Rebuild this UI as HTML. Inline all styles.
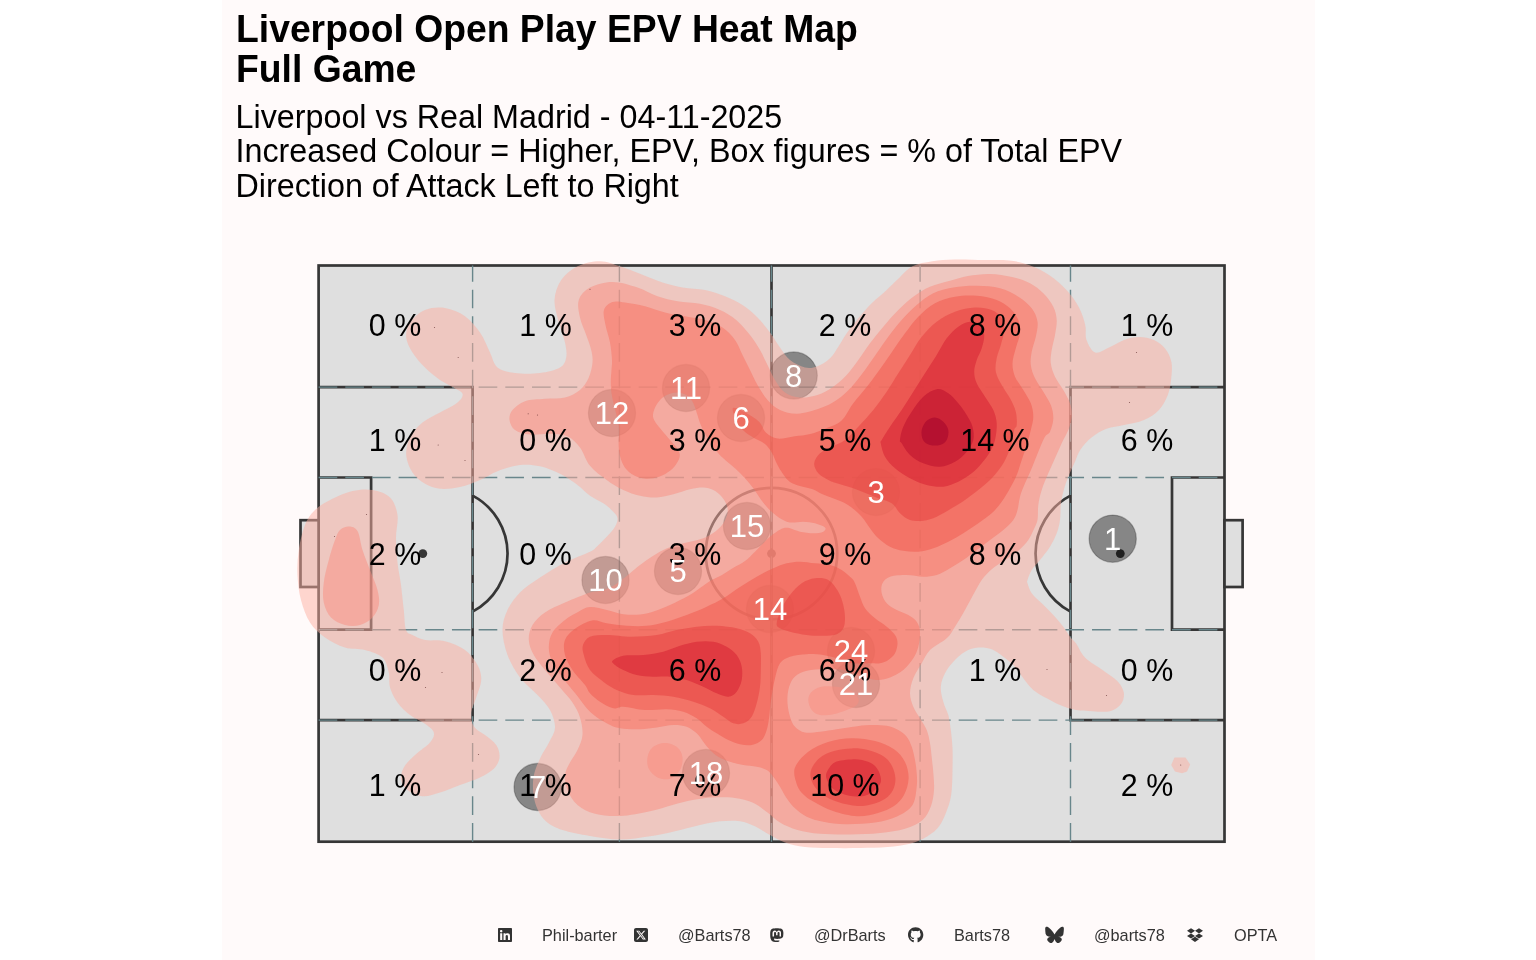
<!DOCTYPE html>
<html lang="en"><head><meta charset="utf-8"><title>Liverpool Open Play EPV Heat Map</title>
<style>
html,body{margin:0;padding:0;background:#fff}
body{width:1536px;height:960px;overflow:hidden;position:relative;font-family:"Liberation Sans",sans-serif}
#panel{position:absolute;left:221.5px;top:0;width:1093px;height:960px;background:#fffafa}
svg{position:absolute;left:0;top:0}
</style></head><body>
<div id="panel"></div>
<svg width="1536" height="960" viewBox="0 0 1536 960">
<g fill="#dfdfdf" stroke="#363636" stroke-width="2.7" stroke-linejoin="miter">
<rect x="318.6" y="265.5" width="905.9" height="576.2"/>
<rect x="300.5" y="520.2" width="18.1" height="66.8"/>
<rect x="1224.5" y="520.2" width="18.1" height="66.8"/>
</g>
<g fill="none" stroke="#363636" stroke-width="2.7">
<path d="M771.5 265.5V841.7"/>
<circle cx="771.5" cy="553.6" r="65.7"/>
<path d="M472.6 495.6A65.6 65.6 0 0 1 472.6 611.6"/>
<path d="M1070.5 495.6A65.6 65.6 0 0 0 1070.5 611.6"/>
<path d="M318.6 387.1H472.6V720.1H318.6"/>
<path d="M1224.5 387.1H1070.5V720.1H1224.5"/>
<path d="M318.6 477.5H371.1V629.7H318.6"/>
<path d="M1224.5 477.5H1172V629.7H1224.5"/>
</g>
<g fill="#363636">
<circle cx="422.8" cy="553.6" r="4.4"/>
<circle cx="771.5" cy="553.6" r="4.4"/>
<circle cx="1120.3" cy="553.6" r="4.4"/>
</g>
<g fill="none" stroke="#68868b" stroke-width="1.4" stroke-dasharray="18.67 8">
<path d="M472.6 841.7V265.5"/>
<path d="M619.4 841.7V265.5"/>
<path d="M771.5 841.7V265.5"/>
<path d="M920.1 841.7V265.5"/>
<path d="M1070.5 841.7V265.5"/>
<path d="M318.6 387.1H1224.5"/>
<path d="M318.6 477.5H1224.5"/>
<path d="M318.6 629.7H1224.5"/>
<path d="M318.6 720.1H1224.5"/>
</g>
<g fill="#000" fill-opacity="0.4" stroke="#000" stroke-opacity="0.25" stroke-width="1.2">
<circle cx="793.7" cy="375.5" r="23.6"/>
<circle cx="686" cy="388" r="23.6"/>
<circle cx="612" cy="413" r="23.6"/>
<circle cx="741" cy="418" r="23.6"/>
<circle cx="876" cy="492" r="23.6"/>
<circle cx="747" cy="526" r="23.6"/>
<circle cx="1112.7" cy="538.7" r="23.6"/>
<circle cx="678" cy="571" r="23.6"/>
<circle cx="605.5" cy="580" r="23.6"/>
<circle cx="770" cy="609" r="23.6"/>
<circle cx="851" cy="651" r="23.6"/>
<circle cx="856" cy="684" r="23.6"/>
<circle cx="706" cy="773" r="23.6"/>
<circle cx="537.6" cy="787" r="23.6"/>
</g>
<g stroke="none">
<path fill="rgb(253,175,161)" fill-opacity="0.500" d="M600 261.2C592.9 261.2 584 263.1 577.5 266.2C571 269.4 565.1 274.4 561.2 280C557.4 285.6 554.9 292.9 554.5 300C554.1 307.1 557 315.4 558.8 322.5C560.5 329.6 563.8 336.7 565 342.5C566.2 348.3 567.1 353.3 566.2 357.5C565.4 361.7 564.4 364.9 560 367.5C555.6 370.1 547.5 372.1 540 373C532.5 373.9 522.1 373.9 515 373C507.9 372.1 501.7 370.9 497.5 367.5C493.3 364.1 492.9 358.3 490 352.5C487.1 346.7 484.2 338.5 480 332.5C475.8 326.5 470.8 320.3 465 316.2C459.2 312.2 451.7 309 445 308C438.3 307 430.8 307.6 425 310C419.2 312.4 413.1 317.9 410 322.5C406.9 327.1 405.8 332.5 406.2 337.5C406.7 342.5 409.4 347.5 412.5 352.5C415.6 357.5 420.4 362.9 425 367.5C429.6 372.1 435.4 376.8 440 380C444.6 383.2 448.8 384.7 452.5 387C456.2 389.3 461.7 391.2 462.5 393.8C463.3 396.3 461.2 399.4 457.5 402.5C453.8 405.6 445.8 409.2 440 412.5C434.2 415.8 427.5 418.3 422.5 422.5C417.5 426.7 412.7 432.1 410 437.5C407.3 442.9 405.8 449.2 406.2 455C406.7 460.8 409.4 467.7 412.5 472.5C415.6 477.3 420.4 481 425 483.8C429.6 486.5 434.2 488.2 440 488.8C445.8 489.3 453.3 488.5 460 487C466.7 485.5 473.8 482.6 480 480C486.2 477.4 490.8 473.8 497.5 471.2C504.2 468.8 512.9 465.8 520 465C527.1 464.2 533.3 464.8 540 466.2C546.7 467.7 553.8 470.6 560 473.8C566.2 476.9 572.5 481.3 577.5 485C582.5 488.7 585.7 492.8 590 495.8C594.3 498.9 599.4 500.7 603.3 503.3C607.2 505.9 610.9 509.2 613.3 511.7C615.7 514.2 617.2 515.8 617.5 518.3C617.8 520.8 616.8 523.6 615 526.7C613.2 529.8 609.8 533.4 606.7 536.7C603.7 540 599.5 544.2 596.7 546.7C593.9 549.2 595.3 549.1 590 551.7C584.7 554.3 573.3 558.2 565 562.5C556.7 566.8 547.5 572.5 540 577.5C532.5 582.5 525.4 587.1 520 592.5C514.6 597.9 510.4 603.8 507.5 610C504.6 616.2 502.5 622.5 502.5 630C502.5 637.5 504.6 647.1 507.5 655C510.4 662.9 515 670.8 520 677.5C525 684.2 532.5 689.6 537.5 695C542.5 700.4 547.1 704.6 550 710C552.9 715.4 555.2 722.1 555 727.5C554.8 732.9 551.4 737.5 549 742.5C546.6 747.5 543.1 751.8 540.5 757.5C537.9 763.2 534.6 770.2 533.5 777C532.4 783.8 533 792 534 798C535 804 537.2 808.8 539.5 813C541.8 817.2 544.2 820.2 548 823C551.8 825.8 555.5 827.8 562.5 830C569.5 832.2 580.4 834.4 590 836C599.6 837.6 610 839.5 620 839.5C630 839.5 640.8 837.6 650 836.2C659.2 834.9 666.7 833.1 675 831.2C683.3 829.4 692.5 826.7 700 825C707.5 823.3 713.3 821.9 720 821.2C726.7 820.6 734.2 820.4 740 821.2C745.8 822.1 750 824 755 826.2C760 828.5 765 832.3 770 835C775 837.7 779.2 840.5 785 842.5C790.8 844.5 797.5 846.1 805 847C812.5 847.9 820.8 847.8 830 848C839.2 848.2 850.4 848.2 860 848C869.6 847.8 879.2 847.7 887.5 847C895.8 846.3 903.3 845.5 910 843.8C916.7 842 922.5 839.4 927.5 836.2C932.5 833.1 936.5 830.2 940 825C943.5 819.8 946.8 810.8 948.8 805C950.7 799.2 951.1 795.8 951.7 790C952.3 784.2 952.4 777 952.5 770C952.6 763 952.8 755 952.5 748.3C952.2 741.6 951.5 735.5 950.8 730C950.1 724.5 949.5 719.7 948.3 715C947 710.3 944.5 706.4 943.3 701.7C942 697 940.5 691.4 940.8 686.7C941.1 682 942.9 677.5 945 673.3C947.1 669.1 950 665.3 953.3 661.7C956.6 658.1 960.8 654.1 965 651.7C969.2 649.3 973.8 647.9 978.3 647.5C982.8 647.1 987.5 647.7 991.7 649.2C995.9 650.7 999.4 653.8 1003.3 656.7C1007.2 659.6 1011.7 663.1 1015 666.7C1018.3 670.3 1020.2 674.4 1023.3 678.3C1026.3 682.2 1029.4 686.7 1033.3 690C1037.2 693.3 1042.2 695.8 1046.7 698.3C1051.2 700.8 1055.1 703 1060 705C1064.9 707 1070.6 709 1076 710C1081.4 711 1086.8 711 1092.5 711.2C1098.2 711.5 1105.2 712.5 1110 711.2C1114.8 710 1119 706.9 1121.2 703.8C1123.5 700.6 1124.4 696.2 1123.8 692.5C1123.1 688.8 1121 685 1117.5 681.2C1114 677.5 1107.9 674 1102.5 670C1097.1 666 1089.4 662 1085 657.5C1080.6 653 1078.5 646.8 1076 643.3C1073.5 639.8 1072.1 639.5 1070 636.7C1067.9 633.9 1066.1 630.3 1063.3 626.7C1060.5 623.1 1056.9 618.9 1053.3 615C1049.7 611.1 1045.3 606.9 1041.7 603.3C1038.1 599.7 1034.1 596.6 1031.7 593.3C1029.3 590 1028.2 585.5 1027.5 583.3C1026.8 581.1 1026.8 582.2 1027.5 580C1028.2 577.8 1029.6 573.3 1031.7 570C1033.8 566.7 1037 563.9 1040 560C1043 556.1 1047.2 551.2 1050 546.7C1052.8 542.2 1055 537.8 1056.7 533.3C1058.4 528.8 1059.3 524.7 1060 520C1060.7 515.3 1060.2 509.7 1060.8 505C1061.3 500.3 1062 496.4 1063.3 491.7C1064.5 487 1066.3 481.7 1068.3 476.7C1070.2 471.7 1073 466.1 1075 461.7C1077 457.2 1077.5 454 1080.2 450C1083 446 1087.1 441 1091.5 437.5C1095.9 434 1101.1 430.8 1106.5 428.8C1111.9 426.7 1117.8 426.5 1124 425C1130.2 423.5 1138.2 422.5 1144 420C1149.8 417.5 1155 414.2 1159 410C1163 405.8 1165.8 400 1167.8 395C1169.8 390 1170.4 385.4 1171 380C1171.6 374.6 1172.5 367.7 1171.5 362.5C1170.5 357.3 1168.2 352.5 1165.2 348.8C1162.3 345 1158.4 342 1154 340C1149.6 338 1144 337 1139 337C1134 337 1129 338.2 1124 340C1119 341.8 1113.8 345.4 1109 347.5C1104.2 349.6 1099 353.8 1095.2 352.5C1091.5 351.2 1088.2 344.6 1086.5 340C1084.8 335.4 1086.5 330.4 1085.2 325C1084 319.6 1082.1 313.3 1079 307.5C1075.9 301.7 1071.5 295.4 1066.5 290C1061.5 284.6 1055.2 279.2 1049 275C1042.8 270.8 1035.7 267.4 1029 265C1022.3 262.6 1016.5 261.3 1009 260.5C1001.5 259.7 993 260.2 984 260C975 259.8 963.6 259.3 955 259.5C946.4 259.7 939.6 260.1 932.5 261.2C925.4 262.4 918.2 263.3 912.5 266.2C906.8 269.2 902.3 275 898 279C893.7 283 891.1 285.9 886.7 290C882.3 294.1 876.4 298.6 871.7 303.3C867 308 862.5 313.3 858.3 318.3C854.1 323.3 850 328.6 846.7 333.3C843.4 338 841.1 342.5 838.3 346.7C835.5 350.9 833.5 355 830 358.3C826.5 361.6 821.7 364.7 817.5 366.2C813.3 367.8 809.6 368.5 805 367.5C800.4 366.5 794.2 363.3 790 360C785.8 356.7 783.3 352.1 780 347.5C776.7 342.9 773.8 337.5 770 332.5C766.2 327.5 762.1 322.1 757.5 317.5C752.9 312.9 747.9 308.5 742.5 305C737.1 301.5 731.2 298.8 725 296.2C718.8 293.8 712.1 291.5 705 290C697.9 288.5 689.6 288.8 682.5 287.5C675.4 286.2 669.6 284.8 662.5 282.5C655.4 280.2 647.1 276.5 640 273.8C632.9 271 626.7 268.3 620 266.2C613.3 264.2 607.1 261.2 600 261.2Z"/>
<path fill="rgb(253,175,161)" fill-opacity="0.500" d="M372.5 490C378.8 491.1 385.8 493.3 390 497.5C394.2 501.7 396.5 508.3 397.5 515C398.5 521.7 396 529.6 396 537.5C396 545.4 396.7 554.6 397.5 562.5C398.3 570.4 400 577.1 401 585C402 592.9 402.9 602.5 403.8 610C404.6 617.5 404.5 625.8 406 630C407.5 634.2 409.3 633.3 412.5 635C415.7 636.7 419.6 639 425 640C430.4 641 438.3 639.6 445 641.2C451.7 642.9 459.6 646 465 650C470.4 654 474.8 660 477.5 665C480.2 670 481.5 674.6 481.2 680C481 685.4 477.9 692.1 476.2 697.5C474.6 702.9 471.7 707.7 471.2 712.5C470.8 717.3 471.5 722.5 473.8 726.2C476 730 481.2 731.9 485 735C488.8 738.1 493.8 741.2 496.2 745C498.7 748.8 499.9 753.5 499.5 757.5C499.1 761.5 497 765.4 493.8 768.8C490.5 772.1 485.6 774.8 480 777.5C474.4 780.2 466.7 782.5 460 785C453.3 787.5 446.2 790.6 440 792.5C433.8 794.4 427.9 796.7 422.5 796.2C417.1 795.8 411 792.7 407.5 790C404 787.3 401.9 783.8 401.2 780C400.6 776.2 401.5 771.7 403.8 767.5C406 763.3 410.6 759.2 415 755C419.4 750.8 426.9 746.2 430 742.5C433.1 738.8 434.6 735.6 433.8 732.5C432.9 729.4 429 726.7 425 723.8C421 720.8 414.6 718.5 410 715C405.4 711.5 400.8 707.1 397.5 702.5C394.2 697.9 391.5 692.5 390 687.5C388.5 682.5 390 677.5 388.8 672.5C387.5 667.5 386.5 661.2 382.5 657.5C378.5 653.8 371.2 651.7 365 650C358.8 648.3 351.7 649.6 345 647.5C338.3 645.4 330.8 641.7 325 637.5C319.2 633.3 314 628.8 310 622.5C306 616.2 303.1 607.9 301 600C298.9 592.1 297.9 583.3 297.5 575C297.1 566.7 297.5 558.3 298.8 550C300 541.7 302.3 531.7 305 525C307.7 518.3 310.4 514.4 315 510C319.6 505.6 326.2 501.9 332.5 498.8C338.8 495.6 345.8 492.5 352.5 491C359.2 489.5 366.2 488.9 372.5 490Z"/>
<path fill="rgb(253,175,161)" fill-opacity="0.500" d="M1171.2 765L1174.5 757.5L1185.5 757.5L1190.2 764.5L1187 771.5L1182 773.3L1175 771.5Z"/>
<path fill="rgb(250,141,128)" fill-opacity="0.500" d="M612.5 282C604.6 282 595.6 284.5 590 287.5C584.4 290.5 580.4 295 578.8 300C577.1 305 578.8 311.7 580 317.5C581.2 323.3 584.4 329.6 586.2 335C588.1 340.4 590.2 345.4 591.2 350C592.3 354.6 592.9 357.9 592.5 362.5C592.1 367.1 590.8 372.9 588.8 377.5C586.7 382.1 584 386.7 580 390C576 393.3 570.8 396 565 397.5C559.2 399 551.7 398.1 545 398.8C538.3 399.4 530.4 399.4 525 401.2C519.6 403.1 515.1 406.9 512.5 410C509.9 413.1 509.1 416.7 509.5 420C509.9 423.3 511.6 427.6 515 430C518.4 432.4 524.2 433.9 530 434.5C535.8 435.1 543.8 433.5 550 433.8C556.2 434 562.5 434 567.5 436.2C572.5 438.5 576.2 442.6 580 447.5C583.8 452.4 585.5 460.4 590 465.8C594.5 471.2 601.2 476 606.7 480C612.2 484 617.8 487.4 623.3 490C628.8 492.6 634.4 494.6 640 495.8C645.6 497.1 651.2 497.8 656.7 497.5C662.2 497.2 667.8 495.6 673.3 494.2C678.8 492.8 685 490.3 690 489.2C695 488.1 699.4 487.4 703.3 487.5C707.2 487.6 710.2 488.5 713.3 490C716.4 491.5 719.5 494.2 721.7 496.7C723.9 499.2 725.7 502.2 726.7 505C727.7 507.8 728.1 510.2 727.5 513.3C726.9 516.3 725.4 520.2 723.3 523.3C721.2 526.4 718.3 529.2 715 531.7C711.7 534.2 707.5 536.6 703.3 538.3C699.1 540 694.4 540.6 690 541.7C685.6 542.8 681.2 543.6 676.7 545C672.2 546.4 667.5 548 663.3 550C659.1 552 655.6 554.2 651.7 556.7C647.8 559.2 643.6 562.2 640 565C636.4 567.8 633 570.8 630 573.3C627 575.8 624.8 577.8 621.7 580C618.7 582.2 615.3 584.9 611.7 586.7C608.1 588.5 603.6 590 600 591C596.4 592 595.8 590.6 590 592.5C584.2 594.4 572.5 599.2 565 602.5C557.5 605.8 550.4 608.8 545 612.5C539.6 616.2 535.2 620.4 532.5 625C529.8 629.6 528.5 635 528.8 640C529 645 531 650 533.8 655C536.5 660 540.6 664.6 545 670C549.4 675.4 555.4 682.1 560 687.5C564.6 692.9 569.2 697.5 572.5 702.5C575.8 707.5 578.3 712.1 580 717.5C581.7 722.9 582.9 729.6 582.5 735C582.1 740.4 579.6 745.4 577.5 750C575.4 754.6 572.1 758.3 570 762.5C567.9 766.7 565.4 770.4 565 775C564.6 779.6 565.4 785 567.5 790C569.6 795 572.9 801 577.5 805C582.1 809 587.9 811.9 595 813.8C602.1 815.6 610.8 816.4 620 816C629.2 815.6 641.2 813.1 650 811.2C658.8 809.4 665.4 806.9 672.5 805C679.6 803.1 685.8 801.2 692.5 800C699.2 798.8 705.4 797.8 712.5 797.5C719.6 797.2 728.3 797.2 735 798C741.7 798.8 747.1 800.1 752.5 802.5C757.9 804.9 762.9 809.2 767.5 812.5C772.1 815.8 775 819.6 780 822.5C785 825.4 790.8 828.1 797.5 830C804.2 831.9 811.2 833 820 833.8C828.8 834.5 840 834.6 850 834.5C860 834.4 870.8 834 880 833C889.2 832 897.9 830.9 905 828.8C912.1 826.6 918.2 823.8 922.5 820C926.8 816.2 929.1 811 931 806C932.9 801 933.6 795.2 934 790C934.4 784.8 933.8 780 933.5 775C933.2 770 932.6 765.3 932 760C931.4 754.7 930.9 748.3 930 743.3C929.1 738.3 928.4 734.2 926.7 730C925 725.8 922.2 722.2 920 718.3C917.8 714.4 915 710.9 913.3 706.7C911.6 702.5 910 698 910 693.3C910 688.6 911.3 683.3 913.3 678.3C915.2 673.3 918.9 668 921.7 663.3C924.5 658.6 925.8 654.2 930 650C934.2 645.8 942.5 642.2 946.7 638.3C950.9 634.4 952.6 630.2 955 626.7C957.4 623.2 959.3 619.8 961 617C962.7 614.2 963.5 612.7 965 610C966.5 607.3 968.2 604.1 970 600.8C971.8 597.5 973.8 593.5 975.8 590C977.8 586.5 979.3 583.2 981.7 580C984.1 576.8 987 573.6 990 570.8C993 568 996.7 565.6 1000 563.3C1003.3 560.9 1006.7 559.1 1010 556.7C1013.3 554.4 1017 552 1020 549.2C1023 546.4 1026 543.2 1028.3 540C1030.5 536.8 1032 533.3 1033.5 530C1035 526.7 1036.7 524.2 1037.5 520C1038.3 515.8 1037.6 510 1038.3 505C1039 500 1040 495.3 1041.7 490C1043.4 484.7 1046.1 478.6 1048.3 473.3C1050.5 468 1052.8 463.3 1055 458.3C1057.2 453.3 1059.5 448 1061.7 443.3C1063.9 438.6 1066.6 434.4 1068.3 430C1070 425.6 1071.4 421.1 1071.7 416.7C1072 412.2 1071.4 407.8 1070 403.3C1068.6 398.9 1065.8 394.4 1063.3 390C1060.8 385.6 1057.1 381.1 1055 376.7C1052.9 372.2 1051.3 367.8 1050.8 363.3C1050.2 358.9 1051 354.7 1051.7 350C1052.4 345.3 1054.2 340 1055 335C1055.8 330 1057 324.7 1056.7 320C1056.4 315.3 1055.5 311.1 1053.3 306.7C1051.1 302.2 1047.2 297.2 1043.3 293.3C1039.4 289.4 1035.2 286 1030 283.3C1024.8 280.6 1018.7 278.6 1012 277C1005.3 275.4 997.3 274.2 990 274C982.7 273.8 974.7 274.9 968 276C961.3 277.1 956.3 279 950 280.8C943.7 282.6 936.1 284.1 930 286.7C923.9 289.3 918.6 292.8 913.3 296.7C908 300.6 903.3 305 898.3 310C893.3 315 888 321.1 883.3 326.7C878.6 332.2 874.2 337.8 870 343.3C865.8 348.9 862.2 354.7 858.3 360C854.4 365.3 850.9 370.6 846.7 375C842.5 379.4 838.2 383.4 833.3 386.7C828.4 390 823 393.2 817.5 395C812 396.8 805.4 397.9 800 397.5C794.6 397.1 789.2 395.4 785 392.5C780.8 389.6 777.9 384.6 775 380C772.1 375.4 770 370 767.5 365C765 360 762.9 355 760 350C757.1 345 754 340 750 335C746 330 741.2 324.2 736.2 320C731.2 315.8 726 312.7 720 310C714 307.3 707.1 305.2 700 303.8C692.9 302.3 684.6 302.5 677.5 301.2C670.4 300 664.2 298.5 657.5 296.2C650.8 294 645 289.9 637.5 287.5C630 285.1 620.4 282 612.5 282Z"/>
<path fill="rgb(250,141,128)" fill-opacity="0.500" d="M349 526.5C351.9 526.7 355.2 527.1 357.5 531C359.8 534.9 360.4 543.5 362.5 550C364.6 556.5 367.5 563.3 370 570C372.5 576.7 376 584.2 377.5 590C379 595.8 379.6 600.4 378.8 605C377.9 609.6 375.6 614.2 372.5 617.5C369.4 620.8 364.6 623.8 360 625C355.4 626.2 349.8 626.2 345 625C340.2 623.8 334.5 621.2 331 617.5C327.5 613.8 325 608.3 323.8 602.5C322.5 596.7 322.9 589.6 323.8 582.5C324.6 575.4 326.9 567.1 328.8 560C330.6 552.9 333.1 545 335 540C336.9 535 337.7 532.2 340 530C342.3 527.8 346.1 526.3 349 526.5Z"/>
<path fill="rgb(250,141,128)" fill-opacity="0.500" d="M647.5 757.5C648.1 754 649.6 749.9 652.5 747.5C655.4 745.1 660.8 743 665 743C669.2 743 674.6 745.1 677.5 747.5C680.4 749.9 682.1 753.8 682.5 757.5C682.9 761.2 682.1 766.5 680 770C677.9 773.5 673.8 777.5 670 778.8C666.2 780 661 779.2 657.5 777.5C654 775.8 650.4 772.1 648.8 768.8C647.1 765.4 646.9 761 647.5 757.5Z"/>
<path fill="rgb(250,141,128)" fill-opacity="0.500" d="M808.3 700C808.3 697 809.5 693.9 811.7 691.7C813.9 689.5 817.5 687.5 821.7 686.7C825.9 685.9 832 686.2 836.7 686.7C841.4 687.2 846.4 688.1 850 690C853.6 691.9 857.2 695.8 858.3 698.3C859.4 700.8 858.6 703 856.7 705C854.8 707 850.6 708.5 846.7 710C842.8 711.5 837.8 713.4 833.3 714.2C828.8 715 823.6 715.7 820 715C816.4 714.3 813.7 712.5 811.7 710C809.8 707.5 808.3 703 808.3 700Z"/>
<path fill="rgb(248,116,100)" fill-opacity="0.500" d="M612.5 302C609 303.2 605.2 306.2 604 310C602.8 313.8 604.5 319.6 605.5 325C606.5 330.4 608.9 336.7 610 342.5C611.1 348.3 611.8 355.4 612 360C612.2 364.6 611.7 366.2 611.5 370C611.3 373.8 610.7 378.7 610.8 383C610.9 387.3 611.1 391 612 396C612.9 401 614.8 407.6 616 413C617.2 418.4 618.9 423.6 619.3 428.6C619.7 433.6 618.5 438.4 618.6 443C618.7 447.6 618.9 451.9 620 456C621.1 460.1 622.6 464.4 625 467.7C627.4 470.9 630.8 473.7 634.3 475.5C637.8 477.3 641.9 478.5 646 478.7C650.1 478.9 654.9 478.2 659 476.8C663.1 475.4 667.7 472.7 670.7 470.3C673.7 467.9 675.7 465 677.2 462.4C678.7 459.8 680 457.2 679.8 454.6C679.6 452 678 449.6 676 446.8C674 444 670.6 440.7 668 437.7C665.4 434.7 662.5 431.4 660.3 428.6C658 425.8 655.7 423.2 654.5 420.8C653.3 418.4 652.7 416.9 653 414.3C653.3 411.7 654.7 407.8 656.4 405C658.1 402.2 660.6 399.2 663 397.3C665.4 395.4 667.9 394.1 670.7 393.4C673.5 392.6 677.2 392.4 680 392.8C682.8 393.2 685.5 394.4 687.7 396C689.9 397.6 691.5 399.8 693 402.6C694.5 405.4 695.5 409.3 696.8 413C698.1 416.7 699 420.6 700.7 424.7C702.4 428.8 704.8 433.6 707.2 437.7C709.6 441.8 712.3 446 715 449.4C717.7 452.8 720 455.1 723.3 458.3C726.6 461.5 731.4 465 735 468.3C738.6 471.6 742 475 745 478.3C748 481.6 750.8 485 753.3 488.3C755.8 491.6 757.8 495.2 760 498.3C762.2 501.4 764.5 504.2 766.7 506.7C768.9 509.2 770.8 511.2 773.3 513.3C775.8 515.4 778.9 517.7 781.7 519.2C784.5 520.7 786.4 522.1 790 522.5C793.6 522.9 799.1 521.6 803.3 521.7C807.5 521.8 811.4 522.3 815 523.3C818.6 524.3 823.6 526.1 825 527.5C826.4 528.9 825.2 530.7 823.3 531.7C821.3 532.7 817.2 533.3 813.3 533.3C809.4 533.3 803.9 532.5 800 531.7C796.1 530.9 792.8 528.9 790 528.3C787.2 527.7 785.5 527.7 783.3 528.3C781.1 528.9 778.9 530.3 776.7 531.7C774.5 533.1 772.2 534.8 770 536.7C767.8 538.6 765.8 540.8 763.3 543.3C760.8 545.8 758 548.8 755 551.7C752 554.7 748.7 558.3 745 561C741.3 563.7 736.8 565.7 733 568C729.2 570.3 725.8 572.8 722 575C718.2 577.2 713.7 578.8 710 581C706.3 583.2 703.7 585.5 700 588C696.3 590.5 693 593.2 688 596C683 598.8 675.5 602.5 670 605C664.5 607.5 660 609.4 655 611C650 612.6 645.3 614 640 614.5C634.7 615 628.8 615 623.3 614.2C617.8 613.5 612.2 611.2 606.7 610C601.2 608.8 594.8 606.7 590 607C585.2 607.3 582.2 609.8 578 612C573.8 614.2 569.2 616.6 565 620C560.8 623.4 555.2 627.9 552.5 632.5C549.8 637.1 548.8 642.5 548.8 647.5C548.8 652.5 550.2 657.5 552.5 662.5C554.8 667.5 558.8 672.4 562.5 677.5C566.2 682.6 570.4 687.3 575 693C579.6 698.7 584.7 706.7 590 711.7C595.3 716.8 601.7 720.5 606.7 723.3C611.7 726.1 614.5 727.3 620 728.3C625.5 729.3 633.9 729.3 640 729.2C646.1 729.1 651.2 728.2 656.7 727.5C662.2 726.8 668.3 725.1 673.3 725C678.3 724.9 682.8 725.3 686.7 726.7C690.6 728.1 693.9 730.8 696.7 733.3C699.5 735.8 701.1 738.9 703.3 741.7C705.5 744.5 707.5 747.5 710 750C712.5 752.5 715 754.8 718.3 756.7C721.6 758.7 725.8 760.3 730 761.7C734.2 763.1 738.8 764.2 743.3 765C747.8 765.8 752.8 765.9 756.7 766.7C760.6 767.5 763.9 768.3 766.7 770C769.5 771.7 771.1 773.9 773.3 776.7C775.5 779.5 777.8 783.1 780 786.7C782.2 790.3 784.2 794.7 786.7 798.3C789.2 801.9 791.7 805.2 795 808.3C798.3 811.4 802 814.5 806.7 816.7C811.4 818.9 816.8 820.5 823.3 821.7C829.8 823 837.4 824.1 846 824.2C854.6 824.3 866.4 823.8 875 822.5C883.6 821.2 891.2 819.2 897.5 816.2C903.8 813.3 909.3 809.9 912.5 805C915.7 800.1 916 792 916.7 786.7C917.4 781.4 917 777.8 916.7 773.3C916.4 768.8 915.8 764.4 915 760C914.2 755.6 913.1 750.6 911.7 746.7C910.3 742.8 908.9 739.5 906.7 736.7C904.5 733.9 901.6 731.8 898.3 730C895 728.2 891.4 726.6 886.7 725.8C882 725 875.6 724.9 870 725C864.4 725.1 858.8 726 853.3 726.7C847.8 727.4 842.2 728.4 836.7 729.2C831.2 730 825.3 731.2 820 731.7C814.7 732.2 809.2 733.3 805 732.5C800.8 731.7 797.5 729.3 795 726.7C792.5 724.1 791.2 720.6 790 716.7C788.8 712.8 787.8 707.8 787.5 703.3C787.2 698.8 787.3 694.2 788.3 690C789.3 685.8 790.8 681.3 793.3 678.3C795.8 675.2 798.8 673.2 803.3 671.7C807.8 670.2 813.3 669.5 820 669.2C826.7 668.9 836.6 668.9 843.3 670C850 671.1 854.4 674.3 860 676C865.6 677.7 871.7 679.8 876.7 680C881.7 680.2 885.6 679.2 890 677.5C894.4 675.8 899.4 673.2 903.3 670C907.2 666.8 910.8 662.2 913.3 658.3C915.8 654.4 917.2 651.1 918.3 646.7C919.4 642.3 920.3 635.9 920 631.7C919.7 627.5 918.7 624.5 916.7 621.7C914.8 618.9 911.6 617 908.3 615C905 613 900.3 612 896.7 610C893.1 608 889.2 606.1 886.7 603.3C884.2 600.5 882.4 596.6 881.7 593.3C881 590 881.1 586.1 882.5 583.3C883.9 580.5 886 578.1 890 576.7C894 575.3 901.2 575 906.7 575C912.2 575 918.3 576.7 923.3 576.7C928.3 576.7 932.2 576.4 936.7 575C941.2 573.6 945.6 570.8 950 568.3C954.4 565.8 958.8 563 963.3 560C967.8 557 972.2 553.3 976.7 550C981.2 546.7 985.6 543.3 990 540C994.4 536.7 999.4 533.3 1003.3 530C1007.2 526.7 1010.9 523.3 1013.3 520C1015.7 516.7 1016.4 513.9 1017.5 510C1018.6 506.1 1018.8 501.1 1020 496.7C1021.2 492.2 1023 488 1025 483.3C1027 478.6 1029.5 473.6 1031.7 468.3C1033.9 463 1036.1 457 1038.3 451.7C1040.5 446.4 1043 440 1045 436.7C1047 433.4 1048.6 434.8 1050 431.7C1051.4 428.6 1053.2 422.8 1053.3 418.3C1053.4 413.9 1052.5 409.4 1050.8 405C1049.1 400.6 1045.9 396.1 1043.3 391.7C1040.7 387.2 1037.1 382.8 1035 378.3C1032.9 373.9 1031.3 369.4 1030.8 365C1030.2 360.6 1030.9 356.4 1031.7 351.7C1032.5 347 1034.8 341.7 1035.8 336.7C1036.8 331.7 1038.2 326.4 1037.5 321.7C1036.8 317 1034.9 312.5 1031.7 308.3C1028.5 304.1 1023.6 300 1018.3 296.7C1013 293.4 1006.9 290.1 1000 288.3C993.1 286.5 984.5 285.9 976.7 285.8C968.9 285.7 960.5 286.2 953.3 287.5C946.1 288.8 939.4 290.4 933.3 293.3C927.2 296.2 922 300.6 916.7 305C911.4 309.4 906.4 314.7 901.7 320C897 325.3 892.5 331.1 888.3 336.7C884.1 342.2 880.6 347.8 876.7 353.3C872.8 358.9 869.2 364.4 865 370C860.8 375.6 856.4 381.7 851.7 386.7C847 391.7 842 396.4 836.7 400C831.4 403.6 826.5 406 820 408.3C813.5 410.6 804.2 413.5 797.5 413.8C790.8 414 785 412.3 780 410C775 407.7 771.2 404.2 767.5 400C763.8 395.8 760.4 390 757.5 385C754.6 380 752.5 375 750 370C747.5 365 745 360 742.5 355C740 350 738.3 344.6 735 340C731.7 335.4 727.5 330.8 722.5 327.5C717.5 324.2 711.2 321.9 705 320C698.8 318.1 691.7 317.5 685 316.2C678.3 315 671.7 314.2 665 312.5C658.3 310.8 651.7 307.9 645 306.2C638.3 304.6 630.4 303.2 625 302.5C619.6 301.8 616 300.8 612.5 302Z"/>
<path fill="rgb(240,87,76)" fill-opacity="0.500" d="M733 408C731.5 409.5 735.2 418.2 737 422C738.8 425.8 741.2 428.3 744 431C746.8 433.7 750.5 435.8 754 438C757.5 440.2 762 441.5 765 444C768 446.5 770 449.7 772 453C774 456.3 775.2 460.5 777 464C778.8 467.5 780.8 471 783 474C785.2 477 787.2 480 790 482C792.8 484 796.3 484.8 800 486C803.7 487.2 808.3 487.7 812 489C815.7 490.3 818.2 492.3 822 494C825.8 495.7 830.7 497.2 835 499C839.3 500.8 843.5 502.1 848 505C852.5 507.9 858 512.8 861.7 516.7C865.4 520.6 867.2 524.7 870 528.3C872.8 531.9 875 535.2 878.3 538.3C881.6 541.4 885.8 544.6 890 546.7C894.2 548.8 898.6 550 903.3 550.8C908 551.6 913.3 552.1 918.3 551.7C923.3 551.3 928.3 550 933.3 548.3C938.3 546.6 943.3 544.2 948.3 541.7C953.3 539.2 958.3 536.4 963.3 533.3C968.3 530.2 973.6 526.6 978.3 523.3C983 520 987.8 516.9 991.7 513.3C995.6 509.7 998.7 505.9 1001.7 501.7C1004.8 497.5 1007.5 492.8 1010 488.3C1012.5 483.9 1014.8 479.7 1016.7 475C1018.7 470.3 1020 465 1021.7 460C1023.4 455 1025.2 450 1026.7 445C1028.2 440 1029.7 434.7 1030.8 430C1031.9 425.3 1033.3 421.1 1033.3 416.7C1033.3 412.2 1032.5 407.8 1030.8 403.3C1029.1 398.9 1025.9 394.4 1023.3 390C1020.7 385.6 1016.8 381.1 1015 376.7C1013.2 372.2 1012.4 368 1012.5 363.3C1012.6 358.6 1014.5 353.3 1015.8 348.3C1017 343.3 1019.6 338 1020 333.3C1020.4 328.6 1020 324.2 1018.3 320C1016.6 315.8 1013.6 311.6 1010 308.3C1006.4 305 1002.2 302.1 996.7 300C991.2 297.9 983.7 296.4 976.7 295.8C969.8 295.2 962 295.4 955 296.7C948 297.9 941.1 300 935 303.3C928.9 306.6 923.3 311.7 918.3 316.7C913.3 321.7 909.2 327.8 905 333.3C900.8 338.9 897.2 344.4 893.3 350C889.4 355.6 885.9 360.9 881.7 366.7C877.5 372.5 873 378.9 868.3 385C863.6 391.1 857.8 397.4 853.3 403.3C848.8 409.2 846.1 416.4 841.6 420.6C837.1 424.8 831.2 426.2 826 428.4C820.8 430.6 815.5 432.6 810.3 433.9C805.1 435.2 800.2 435.5 794.7 436.2C789.2 437 782.3 439.2 777.5 438.6C772.7 438 768.8 435.3 765.8 432.5C762.8 429.7 762.6 425.2 759.3 422C756 418.8 750.6 415.3 746.2 413C741.9 410.7 734.5 406.5 733 408Z"/>
<path fill="rgb(240,87,76)" fill-opacity="0.500" d="M565 640C563.3 644.4 563.8 650 565 655C566.2 660 569.2 665 572.5 670C575.8 675 582.1 681.1 585 685C587.9 688.9 587.5 690.5 590 693.3C592.5 696.1 596.1 699.2 600 701.7C603.9 704.2 609.4 707.5 613.3 708.3C617.2 709.1 618 706.4 623.3 706.7C628.6 707 637.8 709.6 645 710C652.2 710.4 660.3 708.9 666.7 709.2C673.1 709.5 678.3 710.2 683.3 711.7C688.3 713.2 692.8 715.8 696.7 718.3C700.6 720.8 703.4 724.2 706.7 726.7C710 729.2 713.1 731.1 716.7 733.3C720.3 735.5 724.4 738.2 728.3 740C732.2 741.8 736.1 743.4 740 744.2C743.9 745 748.1 745.7 751.7 745C755.3 744.3 759.2 742.5 761.7 740C764.2 737.5 765.5 733.9 766.7 730C768 726.1 768.5 721.7 769.2 716.7C769.9 711.7 770 706.4 771 700C772 693.6 773.5 684.4 775 678.3C776.5 672.2 777.5 666.9 780 663.3C782.5 659.7 785.5 658.2 790 656.7C794.5 655.2 801.2 654.5 806.7 654.2C812.2 653.9 818.3 654.3 823.3 655C828.3 655.7 832.2 657 836.7 658.3C841.2 659.6 844.5 662.2 850 663C855.5 663.8 865 663.2 870 663.3C875 663.3 877 663.8 880 663.3C883 662.8 885.8 661.7 888.3 660C890.8 658.3 893.5 656.1 895 653.3C896.5 650.5 897.5 646.3 897.5 643.3C897.5 640.2 896.8 637.8 895 635C893.2 632.2 890 629.5 886.7 626.7C883.4 623.9 878.6 621.4 875 618.3C871.4 615.2 867.5 611.9 865 608.3C862.5 604.7 861.7 600.9 860 596.7C858.3 592.5 856.4 586.4 855 583.3C853.6 580.2 853.9 580.5 851.7 578.3C849.5 576.1 845.3 572.2 841.7 570C838.1 567.8 834.5 566.1 830 565C825.5 563.9 820 563.8 815 563.3C810 562.8 804.7 561.7 800 561.7C795.3 561.7 791.2 562.2 786.7 563.3C782.2 564.4 778.3 566.1 773.3 568.3C768.3 570.5 762.2 573.6 756.7 576.7C751.2 579.8 745.6 583.4 740 587C734.4 590.6 728.8 595 723.3 598.3C717.8 601.6 712.8 603.9 706.7 606.7C700.6 609.5 693.4 612.5 686.7 615C680 617.5 673.4 619.9 666.7 621.7C660 623.5 653.4 625.1 646.7 625.8C640 626.5 633.4 626.2 626.7 625.8C620 625.4 612.5 624.2 606.7 623.3C600.9 622.4 597.3 619.6 592 620.5C586.7 621.4 579.5 625.5 575 628.8C570.5 632 566.7 635.6 565 640Z"/>
<path fill="rgb(240,87,76)" fill-opacity="0.500" d="M794.8 768.1C793 773.6 795.5 780.5 797 785C798.5 789.5 801.2 792.2 804 795C806.8 797.8 809 799 813.8 801.7C818.6 804.4 825.7 808.6 833 811C840.3 813.4 850 816 857.5 816.3C865 816.6 871.9 814.7 878 813C884.1 811.3 889.7 809 894 806C898.3 803 901.6 799.6 904 795C906.4 790.4 908.4 783.9 908.6 778.4C908.8 772.9 907.4 766.9 905 762C902.6 757.1 899 752.7 894 749.2C889 745.7 882 742.8 875 741C868 739.2 859.5 738 851.7 738.2C843.9 738.4 835.3 739.7 828 742C820.7 744.3 813.4 747.8 807.9 752.1C802.4 756.5 796.6 762.6 794.8 768.1Z"/>
<path fill="rgb(229,61,61)" fill-opacity="0.500" d="M814.2 463.3C813.9 466.6 815.9 470.5 818.3 473.3C820.6 476.1 825.2 478.3 828.3 480C831.4 481.7 832.5 481.9 836.7 483.3C840.9 484.7 846.9 486 853.3 488.3C859.7 490.6 868.6 494.5 875 497C881.4 499.5 887.5 500.6 891.7 503.3C895.9 506 897 510.5 900 513.3C903 516.1 906.1 518.8 910 520C913.9 521.2 918.8 521.3 923.3 520.8C927.8 520.2 932 518.8 936.7 516.7C941.4 514.6 947 511.1 951.7 508.3C956.4 505.5 960.6 503.1 965 500C969.4 496.9 974.1 493.3 978.3 490C982.5 486.7 986.4 483.6 990 480C993.6 476.4 997.2 472.2 1000 468.3C1002.8 464.4 1004.8 460.9 1006.7 456.7C1008.7 452.5 1010.5 447.8 1011.7 443.3C1013 438.9 1013.4 433.1 1014.2 430C1015 426.9 1016.4 428.1 1016.7 425C1017 421.9 1016.9 416.1 1015.8 411.7C1014.7 407.2 1012.4 402.8 1010 398.3C1007.6 393.9 1004.1 389.4 1001.7 385C999.3 380.6 996.6 376.1 995.8 371.7C995 367.2 995.9 362.8 996.7 358.3C997.5 353.9 999.5 349.7 1000.8 345C1002 340.3 1004.1 334.4 1004.2 330C1004.4 325.6 1003.8 321.6 1001.7 318.3C999.6 315 996.2 311.8 991.7 310C987.2 308.2 981.1 307.2 975 307.5C968.9 307.8 961.4 309.3 955 311.7C948.6 314.1 942.2 317.5 936.7 321.7C931.2 325.9 926.2 331.1 921.7 336.7C917.2 342.2 913.9 348.9 910 355C906.1 361.1 902.2 367.2 898.3 373.3C894.4 379.4 890.9 385.6 886.7 391.7C882.5 397.8 878 404.2 873.3 410C868.6 415.8 863 421.7 858.3 426.7C853.6 431.7 849.4 436.7 845 440C840.6 443.3 835.9 444.5 831.7 446.7C827.5 448.9 822.9 450.5 820 453.3C817.1 456.1 814.5 460 814.2 463.3Z"/>
<path fill="rgb(229,61,61)" fill-opacity="0.500" d="M590 636.7C594 635 599.8 635 606.7 635C613.7 635 623.4 636.7 631.7 636.7C640 636.7 649.2 636.1 656.7 635C664.2 633.9 670 631.4 676.7 630C683.4 628.6 690 627.4 696.7 626.7C703.4 626 710 625.5 716.7 625.8C723.4 626.1 731.2 627 736.7 628.3C742.2 629.5 746.4 631.1 750 633.3C753.6 635.5 756.5 638.4 758.3 641.7C760.1 645 760.4 648.6 760.8 653.3C761.2 658 760.9 664.4 760.8 670C760.7 675.6 760.7 681.2 760 686.7C759.3 692.2 758.1 698.3 756.7 703.3C755.3 708.3 753.9 713.4 751.7 716.7C749.5 720 746.4 722.2 743.3 723.3C740.2 724.4 736.6 724.4 733.3 723.3C730 722.2 727.2 719.2 723.3 716.7C719.4 714.2 715 710.8 710 708.3C705 705.8 699.4 703.6 693.3 701.7C687.2 699.8 680 697.8 673.3 696.7C666.6 695.6 660 695.3 653.3 695C646.6 694.7 639.4 695.8 633.3 695C627.2 694.2 621.7 692.2 616.7 690C611.7 687.8 607.8 685 603.3 681.7C598.8 678.4 593.3 674.5 590 670C586.7 665.5 584.9 659.2 583.8 655C582.6 650.8 582 648 583 645C584 642 586 638.4 590 636.7Z"/>
<path fill="rgb(229,61,61)" fill-opacity="0.500" d="M776.7 623.3C777 620 779.5 613 781.7 608.3C783.9 603.6 786.7 599.2 790 595C793.3 590.8 797.5 586.1 801.7 583.3C805.9 580.5 810.6 578.8 815 578.3C819.4 577.8 824.4 577.8 828.3 580C832.2 582.2 835.8 587.5 838.3 591.7C840.8 595.9 842.2 600.6 843.3 605C844.4 609.4 845 614.4 845 618.3C845 622.2 844.7 625.6 843.3 628.3C841.9 630.9 840 633 836.7 634.2C833.4 635.5 828.3 635.7 823.3 635.8C818.3 635.9 812.2 635.7 806.7 635C801.2 634.3 794.5 632.8 790 631.7C785.5 630.6 782.2 629.7 780 628.3C777.8 626.9 776.4 626.6 776.7 623.3Z"/>
<path fill="rgb(229,61,61)" fill-opacity="0.500" d="M810.8 771C809.7 775.4 811 780.1 813 784C815 787.9 818.3 791.4 822.5 794.4C826.7 797.4 832.2 800.1 838 802C843.8 803.9 851.7 805.7 857.5 806C863.3 806.3 868.4 805.2 873 804C877.6 802.8 881.9 801.1 885.2 798.8C888.5 796.5 891.3 793.4 893 790C894.7 786.6 895.6 782.4 895.4 778.4C895.2 774.4 893.9 769.6 892 766C890.1 762.4 887.8 759.2 883.8 756.5C879.8 753.8 873.4 751.4 868 750C862.6 748.6 857.4 748.2 851.7 748.4C846 748.6 839.4 749.4 834 751C828.6 752.6 823.5 754.6 819.6 757.9C815.7 761.2 811.9 766.6 810.8 771Z"/>
<path fill="rgb(212,28,48)" fill-opacity="0.500" d="M881.7 440C880.2 442.8 880.2 440.5 880.8 443.3C881.3 446.1 882.6 452.5 885 456.7C887.4 460.9 890.8 464.7 895 468.3C899.2 471.9 904.7 475.5 910 478.3C915.3 481.1 921.2 483.6 926.7 485C932.2 486.4 938 487.2 943.3 486.7C948.6 486.1 953.6 483.9 958.3 481.7C963 479.5 967.8 476.4 971.7 473.3C975.6 470.2 978.7 466.9 981.7 463.3C984.8 459.7 987.8 455.6 990 451.7C992.2 447.8 993.9 444.7 995 440C996.1 435.3 997 428.3 996.7 423.3C996.4 418.3 995.2 414.4 993.3 410C991.3 405.6 987.8 401.1 985 396.7C982.2 392.2 978.5 387.5 976.7 383.3C974.9 379.1 974.2 375.6 974.2 371.7C974.2 367.8 975.5 363.9 976.7 360C978 356.1 980.5 352.5 981.7 348.3C983 344.1 984.5 338.9 984.2 335C983.9 331.1 982.4 327.2 980 325C977.6 322.8 973.6 321.4 970 321.7C966.4 322 962.2 323.9 958.3 326.7C954.4 329.5 950.3 333.6 946.7 338.3C943.1 343 940.3 349.2 936.7 355C933.1 360.8 928.9 367.2 925 373.3C921.1 379.4 917.2 385.6 913.3 391.7C909.4 397.8 905.6 404.2 901.7 410C897.8 415.8 893.3 421.7 890 426.7C886.7 431.7 883.2 437.2 881.7 440Z"/>
<path fill="rgb(212,28,48)" fill-opacity="0.500" d="M612.5 660.8C613.9 659.3 618.2 656.8 623.3 655.8C628.4 654.8 636.6 655.7 643.3 655C650 654.3 657.2 653.2 663.3 651.7C669.4 650.2 674.4 647.5 680 645.8C685.6 644.1 691.2 642.4 696.7 641.7C702.2 641 708.3 640.9 713.3 641.7C718.3 642.5 722.8 644.5 726.7 646.7C730.6 648.9 734.2 651.7 736.7 655C739.2 658.3 740.9 662.5 741.7 666.7C742.5 670.9 742.5 675.8 741.7 680C740.9 684.2 738.9 688.9 736.7 691.7C734.5 694.5 731.6 696.4 728.3 696.7C725 697 720.9 695 716.7 693.3C712.5 691.6 708.3 688.9 703.3 686.7C698.3 684.5 692.2 681.7 686.7 680C681.2 678.3 675.6 677.2 670 676.7C664.4 676.2 658.8 677 653.3 676.7C647.8 676.4 641.7 676.1 636.7 675C631.7 673.9 626.9 671.7 623.3 670C619.7 668.3 616.8 666.5 615 665C613.2 663.5 611.1 662.3 612.5 660.8Z"/>
<path fill="rgb(212,28,48)" fill-opacity="0.500" d="M826.2 774C825.4 777 826.9 779.6 828 782C829.1 784.4 830.2 786.6 832.7 788.6C835.2 790.6 839.1 792.7 843 794C846.9 795.3 852 796.4 856 796.6C860 796.8 863.8 796.1 867 795C870.2 793.9 872.8 791.8 875 790C877.2 788.2 879 785.9 880 784C881 782.1 881.2 780.7 880.9 778.4C880.6 776.1 879.5 772.4 878 770C876.5 767.6 874.8 765.5 872.1 763.8C869.4 762.1 865.4 760.7 862 760C858.6 759.3 855.2 759.3 851.7 759.4C848.2 759.5 844.2 759.8 841 760.5C837.8 761.2 835.2 761.5 832.7 763.8C830.2 766 827 771 826.2 774Z"/>
<path fill="rgb(184,12,43)" fill-opacity="0.500" d="M900 440C899.7 442.8 900 440.8 901.7 443.3C903.4 445.8 906.4 451.7 910 455C913.6 458.3 918.3 461.4 923.3 463.3C928.3 465.2 934.7 467 940 466.7C945.3 466.4 950.5 464.2 955 461.7C959.5 459.2 963.7 455.3 966.7 451.7C969.8 448.1 972.3 444.2 973.3 440C974.3 435.8 973.6 430.9 972.5 426.7C971.4 422.5 969.1 418.9 966.7 415C964.3 411.1 961.4 406.9 958.3 403.3C955.2 399.7 951.9 395.7 948.3 393.3C944.7 390.9 940.9 388.6 936.7 389.2C932.5 389.8 927.5 392.9 923.3 396.7C919.1 400.4 915 406.7 911.7 411.7C908.4 416.7 905.2 422 903.3 426.7C901.3 431.4 900.3 437.2 900 440Z"/>
<path fill="rgb(158,0,42)" fill-opacity="0.500" d="M921.7 430C922.3 426.8 924.5 422.9 926.7 420.8C928.9 418.7 932.2 417.4 935 417.5C937.8 417.6 941.1 419.6 943.3 421.7C945.5 423.8 947.7 426.9 948.3 430C948.9 433.1 948.1 437.5 946.7 440C945.3 442.5 942.8 444.2 940 445C937.2 445.8 932.8 445.8 930 445C927.2 444.2 924.4 442.5 923 440C921.6 437.5 921.1 433.2 921.7 430Z"/>
</g>
<g fill="#5a2a2a" fill-opacity="0.7">
<circle cx="434.5" cy="327.5" r="0.55"/>
<circle cx="458.2" cy="357.5" r="0.55"/>
<circle cx="438.2" cy="445" r="0.55"/>
<circle cx="465" cy="460.5" r="0.55"/>
<circle cx="590" cy="289.2" r="0.55"/>
<circle cx="528.2" cy="413.8" r="0.55"/>
<circle cx="537.5" cy="415" r="0.55"/>
<circle cx="1180.7" cy="765" r="0.55"/>
<circle cx="366.5" cy="514.5" r="0.55"/>
<circle cx="334.5" cy="536.5" r="0.55"/>
<circle cx="1136.5" cy="352.5" r="0.55"/>
<circle cx="1129.5" cy="402.5" r="0.55"/>
<circle cx="1047" cy="669.5" r="0.55"/>
<circle cx="1106.5" cy="695.5" r="0.55"/>
<circle cx="442" cy="672.5" r="0.55"/>
<circle cx="425.5" cy="687.5" r="0.55"/>
<circle cx="478.5" cy="754.5" r="0.55"/>
</g>
<g fill="#000" font-family="'Liberation Sans', sans-serif" font-size="30.4" text-anchor="middle">
<text transform="translate(395 335.5) scale(1 1.04)">0 %</text>
<text transform="translate(545.5 335.5) scale(1 1.04)">1 %</text>
<text transform="translate(695 335.5) scale(1 1.04)">3 %</text>
<text transform="translate(845 335.5) scale(1 1.04)">2 %</text>
<text transform="translate(995 335.5) scale(1 1.04)">8 %</text>
<text transform="translate(1147 335.5) scale(1 1.04)">1 %</text>
<text transform="translate(395 450.5) scale(1 1.04)">1 %</text>
<text transform="translate(545.5 450.5) scale(1 1.04)">0 %</text>
<text transform="translate(695 450.5) scale(1 1.04)">3 %</text>
<text transform="translate(845 450.5) scale(1 1.04)">5 %</text>
<text transform="translate(995 450.5) scale(1 1.04)">14 %</text>
<text transform="translate(1147 450.5) scale(1 1.04)">6 %</text>
<text transform="translate(395 565) scale(1 1.04)">2 %</text>
<text transform="translate(545.5 565) scale(1 1.04)">0 %</text>
<text transform="translate(695 565) scale(1 1.04)">3 %</text>
<text transform="translate(845 565) scale(1 1.04)">9 %</text>
<text transform="translate(995 565) scale(1 1.04)">8 %</text>
<text transform="translate(395 680.5) scale(1 1.04)">0 %</text>
<text transform="translate(545.5 680.5) scale(1 1.04)">2 %</text>
<text transform="translate(695 680.5) scale(1 1.04)">6 %</text>
<text transform="translate(845 680.5) scale(1 1.04)">6 %</text>
<text transform="translate(995 680.5) scale(1 1.04)">1 %</text>
<text transform="translate(1147 680.5) scale(1 1.04)">0 %</text>
<text transform="translate(395 796) scale(1 1.04)">1 %</text>
<text transform="translate(545.5 796) scale(1 1.04)">1 %</text>
<text transform="translate(695 796) scale(1 1.04)">7 %</text>
<text transform="translate(845 796) scale(1 1.04)">10 %</text>
<text transform="translate(1147 796) scale(1 1.04)">2 %</text>
</g>
<g fill="#fff" font-family="'Liberation Sans', sans-serif" font-size="31" text-anchor="middle">
<text transform="translate(793.7 386.5) scale(1 1.04)">8</text>
<text transform="translate(686 399) scale(1 1.04)">11</text>
<text transform="translate(612 424) scale(1 1.04)">12</text>
<text transform="translate(741 429) scale(1 1.04)">6</text>
<text transform="translate(876 503) scale(1 1.04)">3</text>
<text transform="translate(747 537) scale(1 1.04)">15</text>
<text transform="translate(1112.7 549.7) scale(1 1.04)">1</text>
<text transform="translate(678 582) scale(1 1.04)">5</text>
<text transform="translate(605.5 591) scale(1 1.04)">10</text>
<text transform="translate(770 620) scale(1 1.04)">14</text>
<text transform="translate(851 662) scale(1 1.04)">24</text>
<text transform="translate(856 695) scale(1 1.04)">21</text>
<text transform="translate(706 784) scale(1 1.04)">18</text>
<text transform="translate(537.6 798) scale(1 1.04)">7</text>
</g>
<g fill="#000" font-family="'Liberation Sans', sans-serif">
<text transform="translate(236 42) scale(1 1.04)" font-size="37.3" font-weight="700">Liverpool Open Play EPV Heat Map</text>
<text transform="translate(236 82.3) scale(1 1.04)" font-size="37.3" font-weight="700">Full Game</text>
<text transform="translate(235.5 127.5) scale(1 1.04)" font-size="32.3">Liverpool vs Real Madrid - 04-11-2025</text>
<text transform="translate(235.5 162) scale(1 1.04)" font-size="32.3">Increased Colour = Higher, EPV, Box figures = % of Total EPV</text>
<text transform="translate(235.5 196.5) scale(1 1.04)" font-size="32.3">Direction of Attack Left to Right</text>
</g>
<g fill="#333" font-family="'Liberation Sans', sans-serif" font-size="16.3">
<text transform="translate(542 941) scale(1 1.04)">Phil-barter</text>
<text transform="translate(678 941) scale(1 1.04)">@Barts78</text>
<text transform="translate(814 941) scale(1 1.04)">@DrBarts</text>
<text transform="translate(954 941) scale(1 1.04)">Barts78</text>
<text transform="translate(1094 941) scale(1 1.04)">@barts78</text>
<text transform="translate(1234 941) scale(1 1.04)">OPTA</text>
</g>
<g fill="#333">
<path transform="translate(498.00 927.00) scale(0.03125 0.03125)" d="M416 32H31.9C14.3 32 0 46.5 0 64.3v383.4C0 465.5 14.3 480 31.9 480H416c17.600 0 32-14.500 32-32.300V64.300c0-17.800-14.400-32.300-32-32.300zM135.400 416H69V202.200h66.500V416zm-33.200-243c-21.300 0-38.500-17.300-38.500-38.500S80.900 96 102.200 96c21.200 0 38.500 17.300 38.500 38.500 0 21.300-17.200 38.500-38.500 38.500zm282.100 243h-66.400V312c0-24.800-.5-56.700-34.500-56.700-34.600 0-39.900 27-39.900 54.900V416h-66.400V202.200h63.700v29.200h.9c8.900-16.800 30.600-34.500 62.900-34.500 67.200 0 79.700 44.300 79.700 101.900V416z"/>
<path transform="translate(634.00 927.00) scale(0.03125 0.03125)" d="M64 32C28.700 32 0 60.700 0 96V416c0 35.300 28.700 64 64 64H384c35.300 0 64-28.700 64-64V96c0-35.300-28.700-64-64-64H64zm297.100 84L257.300 234.600 379.400 396H283.800L209 298.100 123.300 396H75.800l111-126.900L69.700 116h98l67.700 89.500L313.600 116h47.500zM323.300 367.600L153.400 142.900H125.100L296.900 367.600h26.300z"/>
<path transform="translate(769.73 927.21) scale(0.03158 0.03080)" d="M433 179.110c0-97.200-63.710-125.700-63.710-125.700-62.520-28.700-228.560-28.400-290.480 0 0 0-63.720 28.500-63.720 125.700 0 115.700-6.600 259.400 105.630 289.100 40.510 10.700 75.320 13 103.330 11.400 50.810-2.800 79.320-18.100 79.320-18.100l-1.700-36.900s-36.310 11.400-77.120 10.100c-40.410-1.400-83-4.400-89.630-54a102.540 102.540 0 0 1-.9-13.900c85.630 20.900 158.650 9.100 178.750 6.700 56.120-6.700 105-41.300 111.230-72.900 9.800-49.800 9-121.500 9-121.500zm-75.120 125.200h-46.630v-114.200c0-49.700-64-51.600-64 6.900v62.500h-46.330V197c0-58.500-64-56.600-64-6.900v114.200H90.190c0-122.100-5.200-147.900 18.410-175 25.900-28.900 79.820-30.800 103.830 6.100l11.600 19.500 11.600-19.500c24.110-37.100 78.120-34.800 103.830-6.100 23.710 27.300 18.400 53 18.400 175z"/>
<path transform="translate(908.00 926.95) scale(0.03085 0.03122)" d="M244.800 8C106.100 8 0 113.300 0 252c0 110.900 69.800 205.800 169.500 239.200 12.800 2.300 17.300-5.600 17.300-12.100 0-6.200-.3-40.400-.3-61.400 0 0-70 15-84.700-29.800 0 0-11.400-29.100-27.800-36.600 0 0-22.900-15.700 1.600-15.400 0 0 24.900 2 38.600 25.800 21.900 38.600 58.600 27.500 72.900 20.900 2.300-16 8.800-27.100 16-33.700-55.900-6.200-112.300-14.300-112.300-110.500 0-27.500 7.600-41.300 23.600-58.900-2.600-6.500-11.100-33.300 2.600-67.900 20.900-6.500 69 27 69 27 20-5.600 41.500-8.500 62.800-8.500s42.800 2.900 62.800 8.500c0 0 48.100-33.600 69-27 13.700 34.700 5.200 61.400 2.600 67.900 16 17.700 25.800 31.500 25.800 58.900 0 96.500-58.900 104.200-114.800 110.500 9.200 7.900 17 22.900 17 46.400 0 33.700-.3 75.400-.3 83.600 0 6.500 4.600 14.400 17.300 12.100C428.200 457.800 496 362.900 496 252 496 113.300 383.500 8 244.800 8z"/>
<path transform="translate(1045.14 925.64) scale(0.03674 0.03639)" d="M111.800 62.200C170.200 105.900 233 194.700 256 242.400c23-47.600 85.800-136.400 144.200-180.200c42.100-31.600 110.300-56 110.300 21.800c0 15.500-8.900 130.500-14.100 149.200C478.200 298 412 314.600 353.100 304.500c102.900 17.500 129.100 75.500 72.500 133.500c-107.400 110.200-154.300-27.600-166.300-62.900c-1.700-4.900-2.600-7.800-3.300-7.800s-1.600 3-3.300 7.800c-12 35.300-59 173.100-166.300 62.900c-56.500-58-30.400-116 72.500-133.500C100 314.600 33.800 298 15.700 233.100C10.400 214.400 1.500 99.400 1.500 83.900c0-77.800 68.200-53.400 110.300-21.800z"/>
<path transform="translate(1187.00 927.33) scale(0.03030 0.03036)" d="M264.400 116.300l-132 84.300 132 84.300-132 84.300L0 284.100l132.300-84.300L0 116.300 132.300 32l132.100 84.300zM131.600 395.700l132-84.300 132 84.300-132 84.300-132-84.300zm132.800-111.600l132-84.300-132-83.600L395.700 32 528 116.300l-132.300 84.300L528 284.800l-132.300 84.300-131.300-85z"/>
</g>
</svg>
</body></html>
